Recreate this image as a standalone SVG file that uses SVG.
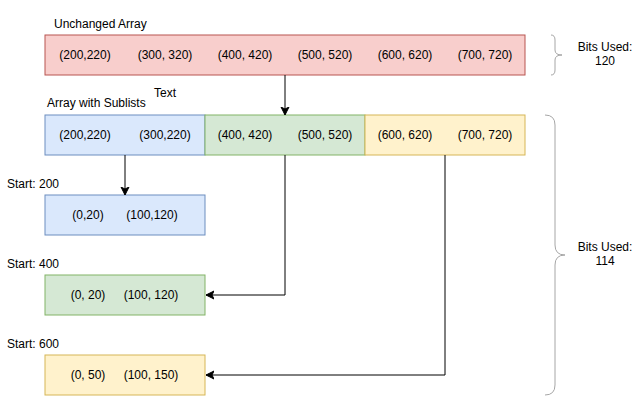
<svg xmlns="http://www.w3.org/2000/svg" width="641" height="401" viewBox="0 0 641 401">
<style>
text{font-family:"Liberation Sans",Arial,sans-serif;font-size:12px;fill:#000}
.c{text-anchor:middle}
.red{fill:#f8cecc;stroke:#b85450}
.blue{fill:#dae8fc;stroke:#6c8ebf}
.green{fill:#d5e8d4;stroke:#82b366}
.yellow{fill:#fff2cc;stroke:#d6b656}
.edge{fill:none;stroke:#000;stroke-width:1}
.brace{fill:none;stroke:#a6a6a6;stroke-width:1}
</style>
<defs>
<marker id="arr" markerUnits="userSpaceOnUse" markerWidth="10" markerHeight="10" viewBox="-8 -5 10 10" refX="0" refY="0" orient="auto">
<path d="M0,0 L-8,-4 L-6,0 L-8,4 Z" fill="#000" stroke="#000" stroke-width="1"/>
</marker>
</defs>
<rect width="641" height="401" fill="#fff"/>
<g id="label-unchanged"><text x="54" y="28">Unchanged Array</text></g>
<g id="label-sublists"><text x="47" y="107">Array with Sublists</text></g>
<g id="label-text"><text x="154" y="97">Text</text></g>
<g id="unchanged-array">
<rect class="red" x="45" y="35" width="480" height="40"/>
<text class="c" x="85" y="59">(200,220)</text>
<text class="c" x="165" y="59">(300, 320)</text>
<text class="c" x="245" y="59">(400, 420)</text>
<text class="c" x="325" y="59">(500, 520)</text>
<text class="c" x="405" y="59">(600, 620)</text>
<text class="c" x="485" y="59">(700, 720)</text>
</g>
<g id="sublist-array-blue">
<rect class="blue" x="45" y="115" width="160" height="40"/>
<text class="c" x="85" y="139">(200,220)</text>
<text class="c" x="165" y="139">(300,220)</text>
</g>
<g id="sublist-array-green">
<rect class="green" x="205" y="115" width="160" height="40"/>
<text class="c" x="245" y="139">(400, 420)</text>
<text class="c" x="325" y="139">(500, 520)</text>
</g>
<g id="sublist-array-yellow">
<rect class="yellow" x="365" y="115" width="160" height="40"/>
<text class="c" x="405" y="139">(600, 620)</text>
<text class="c" x="485" y="139">(700, 720)</text>
</g>
<g id="start-200"><text x="7" y="188">Start: 200</text></g>
<g id="sublist-200">
<rect class="blue" x="45" y="195" width="160" height="40"/>
<text class="c" x="88" y="219">(0,20)</text>
<text class="c" x="152" y="219">(100,120)</text>
</g>
<g id="start-400"><text x="7" y="268">Start: 400</text></g>
<g id="sublist-400">
<rect class="green" x="45" y="275" width="160" height="40"/>
<text class="c" x="88" y="299">(0, 20)</text>
<text class="c" x="151" y="299">(100, 120)</text>
</g>
<g id="start-600"><text x="7" y="348">Start: 600</text></g>
<g id="sublist-600">
<rect class="yellow" x="45" y="355" width="160" height="40"/>
<text class="c" x="88" y="379">(0, 50)</text>
<text class="c" x="151" y="379">(100, 150)</text>
</g>
<g id="brace-120">
<path class="brace" d="M551,35 Q555,35 555,40 L555,50 Q555,55 562,55 Q555,55 555,60 L555,70 Q555,75 551,75"/>
<text class="c" x="605" y="51">Bits Used:</text>
<text class="c" x="605" y="65">120</text>
</g>
<g id="brace-114">
<path class="brace" d="M545,115 Q555,115 555,125 L555,245 Q555,255 565,255 Q555,255 555,265 L555,385 Q555,395 545,395"/>
<text class="c" x="605" y="251">Bits Used:</text>
<text class="c" x="605" y="265">114</text>
</g>
<g id="connectors">
<path class="edge" d="M285,75 L285,115" marker-end="url(#arr)"/>
<path class="edge" d="M125,155 L125,195" marker-end="url(#arr)"/>
<path class="edge" d="M285,155 L285,295 L206,295" marker-end="url(#arr)"/>
<path class="edge" d="M445,155 L445,375 L206,375" marker-end="url(#arr)"/>
</g>
</svg>
